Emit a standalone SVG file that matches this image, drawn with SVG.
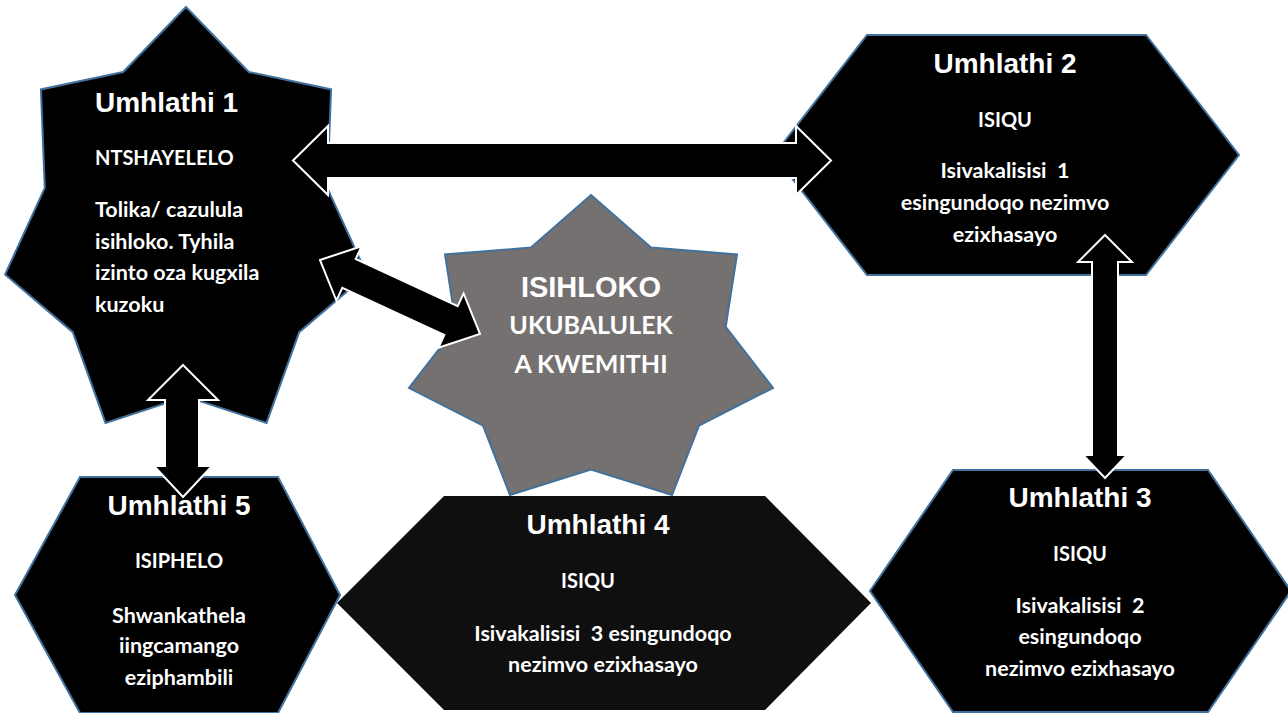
<svg xmlns="http://www.w3.org/2000/svg" width="1288" height="713" viewBox="0 0 1288 713">
<style>
.shape{fill:#000;stroke:#41719C;stroke-width:2;stroke-linejoin:miter}
.arrow{fill:#000;stroke:#fff;stroke-width:2;stroke-linejoin:miter}
.h{font-family:"Liberation Sans",Arial,sans-serif;font-weight:700;font-size:28px;fill:#fff}
.b{font-family:Lato,"Liberation Sans",sans-serif;font-weight:700;font-size:21.5px;fill:#fff;white-space:pre}
.k{font-size:20px}
.c{text-anchor:middle}
</style>
<rect x="0" y="0" width="1288" height="713" fill="#fff"/>
<g id="node-umhlathi1">
<polygon class="shape" points="186,7 248.8,72 331.1,89.4 327.2,187.8 366.9,274.5 299.2,332.2 266.5,422.9 186,396.5 105.5,422.9 72.8,332.2 5.1,274.5 44.8,187.8 40.9,89.4 123.2,72"/>
<text class="h" x="95" y="112">Umhlathi 1</text>
<text class="b k" x="95" y="165">NTSHAYELELO</text>
<text class="b" x="95" y="217">Tolika/ cazulula</text>
<text class="b" x="95" y="249">isihloko. Tyhila</text>
<text class="b" x="95" y="280">izinto oza kugxila</text>
<text class="b" x="95" y="312">kuzoku</text>
</g>
<g id="node-umhlathi2">
<polygon class="shape" points="867,35 1146,35 1239,155 1146,275 867,275 774,155"/>
<text class="h c" x="1005" y="73">Umhlathi 2</text>
<text class="b k c" x="1005" y="127">ISIQU</text>
<text class="b c" x="1005" y="178">Isivakalisisi  1</text>
<text class="b c" x="1005" y="210">esingundoqo nezimvo</text>
<text class="b c" x="1005" y="242">ezixhasayo</text>
</g>
<g id="node-umhlathi3">
<polygon class="shape" points="953,470 1208,470 1291,591 1208,712 953,712 870,591"/>
<text class="h c" x="1080" y="507">Umhlathi 3</text>
<text class="b k c" x="1080" y="561">ISIQU</text>
<text class="b c" x="1080" y="613">Isivakalisisi  2</text>
<text class="b c" x="1080" y="644">esingundoqo</text>
<text class="b c" x="1080" y="676">nezimvo ezixhasayo</text>
</g>
<g id="node-isihloko">
<polygon points="591,195 651,247.6 737,254.4 725.7,326.8 773,387.9 699,425.6 672,495 591,469.6 510,495 483,425.6 409,387.9 456.3,326.8 445,254.4 531,247.6" fill="#767171" stroke="#41719C" stroke-width="2"/>
<text class="h c" x="591" y="297" style="font-size:29px">ISIHLOKO</text>
<text class="b c" x="591" y="334" style="font-size:25px">UKUBALULEK</text>
<text class="b c" x="591" y="373" style="font-size:25px">A KWEMITHI</text>
</g>
<g id="node-umhlathi4">
<polygon points="444,496 765,496 871,603 765,710 444,710 337,603" fill="#0f0f0f"/>
<text class="h c" x="598" y="534">Umhlathi 4</text>
<text class="b k c" x="588" y="588">ISIQU</text>
<text class="b c" x="603" y="641">Isivakalisisi  3 esingundoqo</text>
<text class="b c" x="603" y="672">nezimvo ezixhasayo</text>
</g>
<g id="node-umhlathi5">
<polygon class="shape" points="80,477 278,477 340,595 278,713 80,713 15,595"/>
<text class="h c" x="179" y="515">Umhlathi 5</text>
<text class="b k c" x="179" y="568">ISIPHELO</text>
<text class="b c" x="179" y="623">Shwankathela</text>
<text class="b c" x="179" y="653">iingcamango</text>
<text class="b c" x="179" y="685">eziphambili</text>
</g>
<g id="connectors">
<polygon class="arrow" points="293,160.5 328,126 328,143 796,143 796,126 831,160.5 796,195 796,178 328,178 328,195"/>
<polygon class="arrow" points="320,260 361.6,246.2 355.7,258.9 457.7,306.1 463.6,293.4 480,334 438.4,347.8 444.3,335.1 342.3,287.9 336.4,300.6"/>
<polygon class="arrow" points="183,365 218,400 199,400 199,466 212,466 183,497 154,466 165,466 165,400 148,400"/>
<polygon class="arrow" points="1105,235 1132,262 1118,262 1118,455 1127,455 1105,478 1083,455 1092,455 1092,262 1078,262"/>
</g>
</svg>
